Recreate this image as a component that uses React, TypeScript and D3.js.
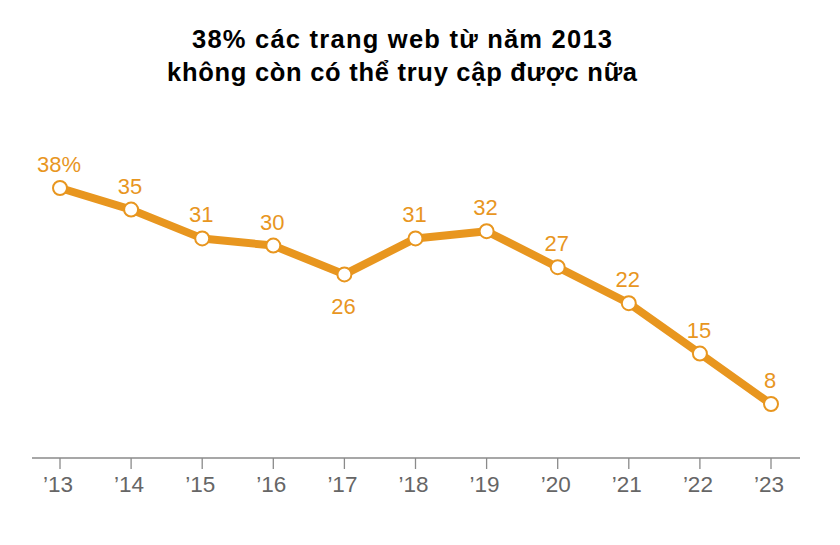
import React from "react";
import * as d3 from "d3";

const years = ["’13", "’14", "’15", "’16", "’17", "’18", "’19", "’20", "’21", "’22", "’23"];
const values = [38, 35, 31, 30, 26, 31, 32, 27, 22, 15, 8];
const labels = ["38%", "35", "31", "30", "26", "31", "32", "27", "22", "15", "8"];
const labelBelow = [false, false, false, false, true, false, false, false, false, false, false];
const titleLines = ["38% các trang web từ năm 2013", "không còn có thể truy cập được nữa"];
const titleWidths = [420, 470];

const W = 840, H = 545;
const ORANGE = "#E8961F";

export default function App() {
  const x = d3.scalePoint<string>().domain(years).range([60, 771]);
  const y = d3.scaleLinear().domain([0, 38]).range([461.6, 188]);
  const line = d3.line<number>().x((_, i) => x(years[i])!).y((v) => y(v));
  const font = "'Liberation Sans', Arial, sans-serif";
  return (
    <svg width={W} height={H} style={{ position: "absolute", left: 0, top: 0, background: "#fff" }}>
      <g fontFamily={font} fontWeight="bold" fontSize={25.5} textAnchor="middle" fill="#000">
        {titleLines.map((t, i) => (
          <text key={i} x={402} y={48 + i * 33} textLength={titleWidths[i]} lengthAdjust="spacing">{t}</text>
        ))}
      </g>
      <line x1={32} x2={800} y1={458} y2={458} stroke="#8a8a8a" strokeWidth={1.3} />
      {years.map((yr) => (
        <g key={yr}>
          <line x1={x(yr)} x2={x(yr)} y1={458} y2={469} stroke="#8a8a8a" strokeWidth={1.3} />
          <text x={x(yr)! - 2} y={492} textAnchor="middle" fontFamily={font} fontSize={22.5} fill="#666">{yr}</text>
        </g>
      ))}
      <path d={line(values)!} fill="none" stroke={ORANGE} strokeWidth={8} strokeLinejoin="round" />
      {values.map((v, i) => (
        <circle key={i} cx={x(years[i])} cy={y(v)} r={7} fill="#fff" stroke={ORANGE} strokeWidth={2} />
      ))}
      {values.map((v, i) => (
        <text key={"l" + i} x={x(years[i])! - 1} y={labelBelow[i] ? y(v) + 40 : y(v) - 16} textAnchor="middle"
          fontFamily={font} fontSize={22} fill={ORANGE}>{labels[i]}</text>
      ))}
    </svg>
  );
}
